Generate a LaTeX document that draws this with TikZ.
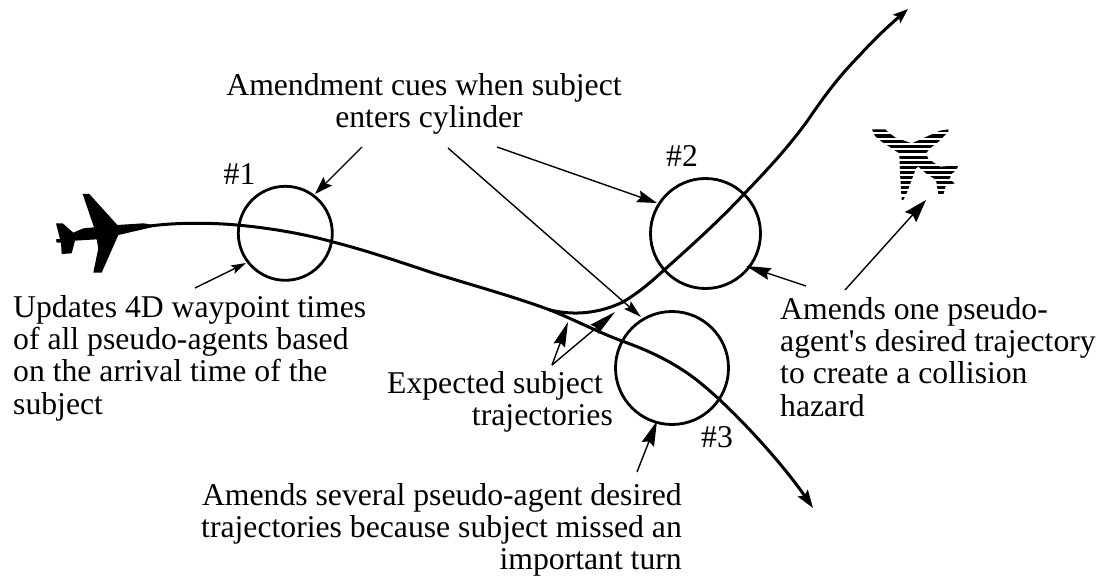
\documentclass[tikz,border=0pt]{standalone}
\usepackage{fontspec}
\setmainfont{Liberation Serif}[Ligatures=TeXOff]
\usetikzlibrary{arrows.meta}
\tikzset{
  lbl/.style={inner sep=0pt,font=\fontsize{31.7}{32.3}\selectfont},
  cyl/.style={circle,draw,line width=2.8pt,inner sep=0pt},
  traj/.style={line width=3pt,line cap=round},
  arr/.style 2 args={line width=1.4pt,-{Stealth[length=#1pt,width=#2pt,inset=3pt]}}
}
\begin{document}
\begin{tikzpicture}[x=1pt,y=-1pt]
\useasboundingbox (0,0) rectangle (1102,577);
% cylinders
\node[cyl,minimum size=94pt] (c1) at (285.3,233.3) {};
\node[cyl,minimum size=110pt] (c2) at (705.5,233.5) {};
\node[cyl,minimum size=113pt] (c3) at (672,368) {};
% plane 1 silhouette
\begin{scope}[shift={(30,170)},x=0.3333pt,y=-0.3333pt]
\fill (158,72) -- (178,72) -- (262,165) -- (340,160) -- (372,165) -- (365,172) -- (265,195) -- (215,308) -- (190,308) -- (205,235) -- (200,208) -- (135,212) -- (125,250) -- (95,252) -- (93,218) -- (80,218) -- (78,208) -- (90,207) -- (78,160) -- (98,160) -- (130,188) -- (160,175) -- (192,172) -- cycle;
\end{scope}
% plane 2: striped silhouette
\begin{scope}[shift={(850,110)},x=0.3333pt,y=-0.3333pt]
\clip (66,58) -- (105,58) -- (135,82) -- (185,100) -- (270,62) -- (295,58) -- (295,66) -- (262,98) -- (240,115) -- (228,130) -- (235,147) -- (258,162) -- (270,170) -- (325,166) -- (320,178) -- (305,192) -- (298,208) -- (315,220) -- (288,225) -- (280,254) -- (265,252) -- (258,210) -- (228,190) -- (205,170) -- (198,175) -- (185,210) -- (170,250) -- (160,270) -- (155,270) -- (150,190) -- (148,130) -- (115,108) -- (95,95) -- (75,78) -- cycle;
\foreach \yy in {62,78,94,110,125,142,157,172,187,203,218,233,248,265}
  \fill (50,\yy-5) rectangle (340,\yy+5);
\end{scope}
% trajectories
\coordinate (start) at (150,226);
\coordinate (fork) at (550,310);
\coordinate (end1) at (908,9);
\coordinate (end2) at (813,508);
\draw[traj,-{Stealth[length=18pt,width=12pt,inset=3pt]}] (start) .. controls (180,222) and (215,223) .. (237,225) .. controls (270,228) and (305,234) .. (333,242) .. controls (365,250) and (400,262) .. (433,273) .. controls (475,286) and (515,297) .. (fork) .. controls (575,320) and (600,333) .. (622,341) .. controls (650,351) and (670,361) .. (690,375) .. controls (725,400) and (780,460) .. (end2);
\draw[traj,-{Stealth[length=15pt,width=11pt,inset=3pt]}] (fork) .. controls (575,316) and (600,313) .. (623,302) .. controls (638,293) and (650,283) .. (663,271) .. controls (690,247) and (720,220) .. (745,193) .. controls (770,167) and (790,145) .. (808,120) .. controls (825,95) and (840,75) .. (860,55) .. controls (875,38) and (892,23) .. (end1);
% labels
\node[lbl,align=center,anchor=north] (cues) at (424,73) {Amendment cues when subject\\\hspace*{10pt}enters cylinder};
\node[lbl] (n1) at (239.5,174) {\#1};
\node[lbl] (n2) at (682,156) {\#2};
\node[lbl] (n3) at (717,437) {\#3};
\node[lbl,align=left,anchor=north west] (upd) at (13,295) {Updates 4D waypoint times\\of all pseudo-agents based\\on the arrival time of the\\subject};
\node[lbl,align=left,anchor=north west] (one) at (780,297) {Amends one pseudo-\\agent's desired trajectory\\to create a collision\\hazard};
\node[lbl,align=right,anchor=north east] (exp) at (613,371) {Expected subject\hspace*{10pt}\\trajectories};
\node[lbl,align=right,anchor=north east] (sev) at (682,483) {Amends several pseudo-agent desired\\trajectories because subject missed an\\important turn};
% connectors
\coordinate (a1s) at (362,147); \coordinate (a1e) at (315,194);
\coordinate (a2s) at (497,147); \coordinate (a2e) at (657,203);
\coordinate (a3s) at (448,148); \coordinate (a3e) at (641,317);
\coordinate (a4s) at (195,288); \coordinate (a4e) at (246,263);
\coordinate (apex) at (552,365); \coordinate (t1) at (568,322); \coordinate (t2) at (615,312);
\coordinate (a5s) at (806,286); \coordinate (a5e) at (746,266);
\coordinate (a6s) at (845,290); \coordinate (a6e) at (926,200);
\coordinate (a7s) at (637,472); \coordinate (a7e) at (657,421);
\draw[arr={18}{12}] (a1s) -- (a1e);
\draw[arr={20}{12}] (a2s) -- (a2e);
\draw[arr={18}{10}] (a3s) -- (a3e);
\draw[arr={15}{9}] (a4s) -- (a4e);
\draw[arr={25}{12}] (apex) -- (t1);
\draw[arr={27}{12}] (apex) -- (t2);
\draw[arr={25}{12}] (a5s) -- (a5e);
\draw[arr={23}{15}] (a6s) -- (a6e);
\draw[arr={25}{13}] (a7s) -- (a7e);
\end{tikzpicture}
\end{document}
